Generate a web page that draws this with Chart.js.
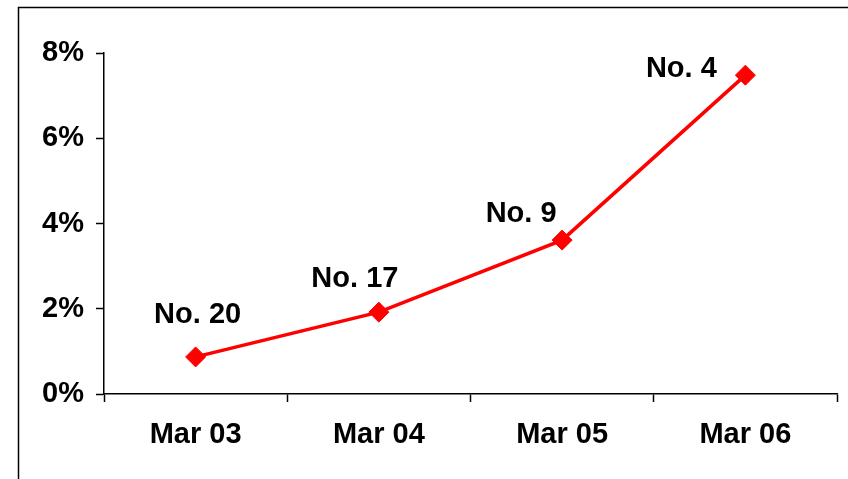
<!DOCTYPE html>
<html>
<head>
<meta charset="utf-8">
<script src="https://cdn.jsdelivr.net/npm/chart.js@4"></script>
<style>
    html, body { margin: 0; padding: 0; background: #fff; }
    #wrap { width: 848px; height: 479px; position: relative; }
</style>
</head>
<body>
<div id="wrap"><canvas id="rank-chart" width="848" height="479"></canvas></div>
<script>
'use strict';

// dados do gráfico
const categories = ['Mar 03', 'Mar 04', 'Mar 05', 'Mar 06'];
const shareValues = [0.87, 1.92, 3.61, 7.48];
const rankLabels = ['No. 20', 'No. 17', 'No. 9', 'No. 4'];
const yTicks = [0, 2, 4, 6, 8];

// deslocamento de cada rótulo em relação ao seu ponto (dx, baseline dy)
const labelOffsets = [[2, -34], [-24, -25], [-41, -18], [-64, 2]];

const FONT_FAMILY = '"Liberation Sans", Arial, sans-serif';
const FONT_SIZE = 29;
const RED = '#FF0000';

const framePlugin = {
    id: 'frame',
    beforeDraw(chart) {
        const { ctx, width, height } = chart;
        ctx.save();
        ctx.fillStyle = '#fff';
        ctx.fillRect(0, 0, width, height);
        ctx.strokeStyle = '#000';
        ctx.lineWidth = 1.5;
        ctx.beginPath();
        ctx.moveTo(18.5, height);
        ctx.lineTo(18.5, 7.5);
        ctx.lineTo(width, 7.5);
        ctx.stroke();
        ctx.restore();
    }
};

const rankLabelPlugin = {
    id: 'rankLabels',
    afterDatasetsDraw(chart) {
        const { ctx } = chart;
        const meta = chart.getDatasetMeta(0);
        ctx.save();
        ctx.font = `bold ${FONT_SIZE}px ${FONT_FAMILY}`;
        ctx.fillStyle = '#000';
        ctx.textAlign = 'center';
        ctx.textBaseline = 'alphabetic';
        meta.data.forEach((pt, i) => {
            const [dx, dy] = labelOffsets[i];
            ctx.fillText(rankLabels[i], pt.x + dx, pt.y + dy);
        });
        ctx.restore();
    }
};

const ctx = document.getElementById('rank-chart').getContext('2d');

new Chart(ctx, {
    type: 'line',
    data: {
        labels: categories,
        datasets: [{
            data: shareValues,
            borderColor: RED,
            backgroundColor: RED,
            borderWidth: 3.5,
            tension: 0,
            pointStyle: 'rectRot',
            pointRadius: 10,
            pointBorderWidth: 1,
            pointBackgroundColor: RED,
            pointBorderColor: RED,
            clip: false
        }]
    },
    options: {
        responsive: false,
        animation: false,
        devicePixelRatio: 1,
        layout: { padding: { top: 53, right: 9, left: 0, bottom: 0 } },
        plugins: {
            legend: { display: false },
            tooltip: { enabled: false }
        },
        scales: {
            x: {
                type: 'category',
                offset: true,
                grid: {
                    offset: true,
                    drawOnChartArea: false,
                    drawTicks: true,
                    tickLength: 8,
                    tickWidth: 1.5,
                    tickColor: '#000'
                },
                border: { display: true, color: '#000', width: 1.5 },
                ticks: {
                    color: '#000',
                    padding: 16,
                    maxRotation: 0,
                    autoSkip: false,
                    font: { family: FONT_FAMILY, size: FONT_SIZE, weight: 'bold' }
                },
                afterFit(scale) { scale.height = 85; }
            },
            y: {
                min: 0,
                max: 8,
                afterBuildTicks(scale) { scale.ticks = yTicks.map(v => ({ value: v })); },
                grid: {
                    drawOnChartArea: false,
                    drawTicks: true,
                    tickLength: 8,
                    tickWidth: 1.5,
                    tickColor: '#000'
                },
                border: { display: true, color: '#000', width: 1.5 },
                ticks: {
                    color: '#000',
                    padding: 12,
                    callback: (v) => `${v}%`,
                    font: { family: FONT_FAMILY, size: FONT_SIZE, weight: 'bold' }
                },
                afterFit(scale) { scale.width = 104; }
            }
        }
    },
    plugins: [framePlugin, rankLabelPlugin]
});
</script>
</body>
</html>
